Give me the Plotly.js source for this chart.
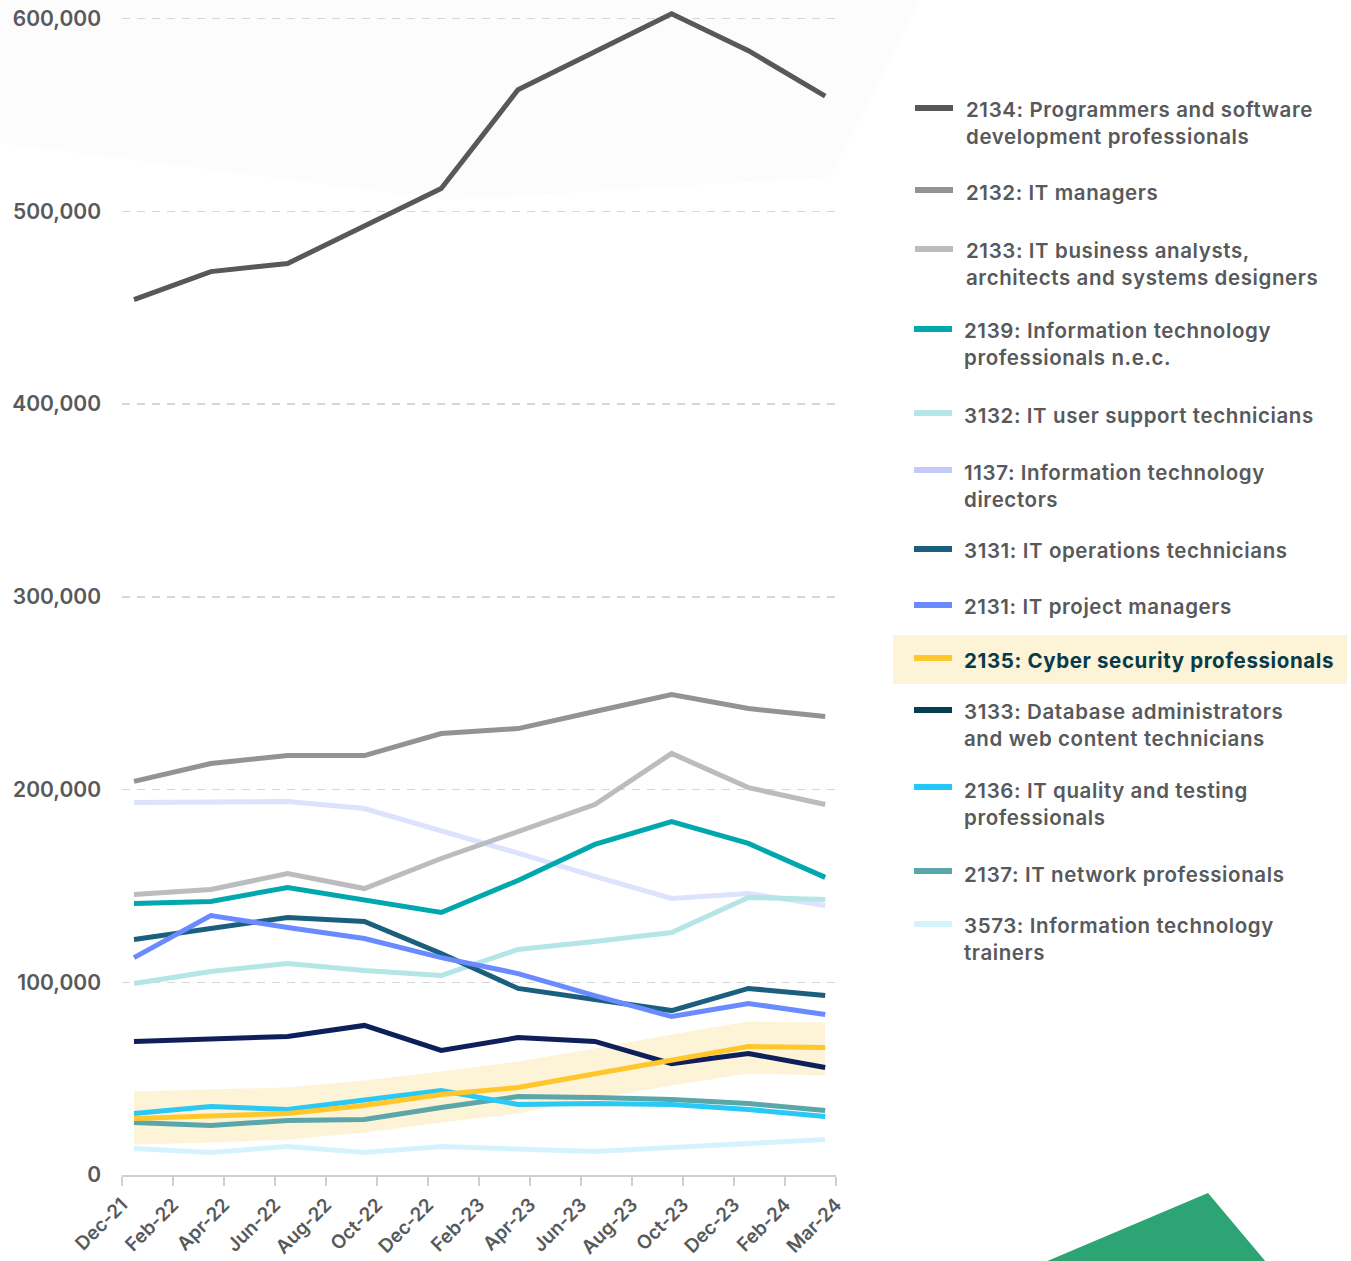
<!DOCTYPE html>
<html>
<head>
<meta charset="utf-8">
<script src="https://cdn.plot.ly/plotly-3.0.1.min.js"></script>
<style>
html,body{margin:0;padding:0;background:#fff;}
#chart{width:1351px;height:1261px;}
#chart .annotation-text{letter-spacing:0.6px;}
#chart .xtick text{letter-spacing:0.4px;}
</style>
</head>
<body>
<div id="chart"></div>
<script>
// ---- Data ----
const quarters = ['Dec-21','Mar-22','Jun-22','Sep-22','Dec-22','Mar-23','Jun-23','Sep-23','Dec-23','Mar-24'];
const tickLabels = ['Dec-21','Feb-22','Apr-22','Jun-22','Aug-22','Oct-22','Dec-22','Feb-23','Apr-23','Jun-23','Aug-23','Oct-23','Dec-23','Feb-24','Mar-24'];

const s2134 = [454200, 468700, 472900, 492300, 511800, 563000, 582700, 602400, 583300, 559700];
const s2132 = [204200, 213500, 217600, 217600, 229000, 231600, 240500, 249300, 242000, 237900];
const s2133 = [145500, 148100, 156400, 148600, 164200, 178200, 192200, 218700, 201000, 192200];
const s2139 = [140900, 141900, 149200, 142400, 136200, 152800, 171500, 183400, 172000, 154400];
const s3132 = [99400, 105600, 109700, 106100, 103500, 117000, 121100, 125800, 144000, 142900];
const s1137 = [193300, 193300, 193800, 190100, 178700, 167000, 154900, 143500, 146100, 139800];
const s3131 = [122200, 127900, 133600, 131500, 114900, 96800, 91100, 85300, 96800, 93100];
const s2131 = [112800, 134600, 128400, 122700, 112800, 104500, 93100, 82200, 89000, 83300];
const s2135 = [29300, 30400, 31900, 36100, 41800, 45400, 52700, 59400, 66700, 66100];
const s2135Upper = [43300, 44400, 45400, 49000, 53700, 58900, 65600, 72900, 79600, 79100];
const s2135Lower = [15800, 16900, 18400, 22000, 27200, 31900, 39700, 46400, 52700, 51600];
const s3133 = [69300, 70800, 71900, 77600, 64600, 71300, 69300, 57800, 63000, 55800];
const s2136 = [31900, 35500, 34000, 38700, 43800, 36600, 37100, 36600, 34000, 30400];
const s2137 = [27200, 25700, 28300, 28800, 35000, 40700, 40200, 39200, 37100, 33500];
const s3573 = [13700, 11700, 14800, 11700, 14800, 13700, 12200, 14300, 16300, 18400];

const seriesNames = [
  '2134: Programmers and software<br>development professionals',
  '2132: IT managers',
  '2133: IT business analysts,<br>architects and systems designers',
  '2139: Information technology<br>professionals n.e.c.',
  '3132: IT user support technicians',
  '1137: Information technology<br>directors',
  '3131: IT operations technicians',
  '2131: IT project managers',
  '2135: Cyber security professionals',
  '3133: Database administrators<br>and web content technicians',
  '2136: IT quality and testing<br>professionals',
  '2137: IT network professionals',
  '3573: Information technology<br>trainers'
];
const seriesValues = [s2134, s2132, s2133, s2139, s3132, s1137, s3131, s2131, s2135, s3133, s2136, s2137, s3573];
const lineColors = ['#58585a','#939397','#bcbcc0','#00a8ad','#b3e6e4','#dde2fd','#1b5f7e','#6a8bff','#ffc72c','#0e1f5b','#29c8f5','#5ba6a9','#d5f3fc'];
const swatchColors = ['#58585a','#939397','#bcbcc0','#00a8ad','#b3e6e4','#c4cbf9','#1b5f7e','#6a8bff','#ffc72c','#063f4f','#23c8fa','#5aa6aa','#d5f3fc'];

// ---- Geometry helpers (layout only) ----
const W = 1351, H = 1261;
const M = {l: 122, r: 1351 - 836, t: 6, b: 86};
const PW = W - M.l - M.r, PH = H - M.t - M.b;
const px = x => (x - M.l) / PW;
const py = y => (H - M.b - y) / PH;
const FONT = 'Inter, "Open Sans", sans-serif';
const TXT = '#58595b';

const idx = quarters.map((_, i) => i);
const traces = [];
// confidence band for 2135
traces.push({x: idx, y: s2135Lower, type: 'scatter', mode: 'lines', line: {width: 0, color: 'rgba(0,0,0,0)'}, hoverinfo: 'skip', showlegend: false});
traces.push({x: idx, y: s2135Upper, type: 'scatter', mode: 'lines', line: {width: 0, color: 'rgba(0,0,0,0)'}, fill: 'tonexty', fillcolor: '#fdf3d6', hoverinfo: 'skip', showlegend: false});

// draw order: light/background lines first
const order = [12, 5, 4, 2, 1, 0, 3, 6, 7, 9, 11, 10, 8];
order.forEach(k => {
  traces.push({
    x: idx, y: seriesValues[k], type: 'scatter', mode: 'lines',
    name: seriesNames[k].replace('<br>', ' '),
    text: quarters, line: {color: lineColors[k], width: 5}, showlegend: false
  });
});
// dummy trace to carry the category-tick axis
traces.push({x: [0, 14], y: [0, 0], xaxis: 'x2', type: 'scatter', mode: 'lines', line: {width: 0, color: 'rgba(0,0,0,0)'}, hoverinfo: 'skip', showlegend: false});

// ---- custom legend ----
const legendSwatchY = [108, 190, 249, 329, 413, 470, 549, 605, 658, 710, 787, 871, 924];
const legendTextY = [123, 192, 264, 344, 416, 486, 550, 606, 660, 725, 804, 874, 939];
const shapes = [];
const annotations = [];

// background decoration
shapes.push({type: 'path', xref: 'paper', yref: 'paper', layer: 'below',
  path: `M ${px(0)} ${py(0)} L ${px(920)} ${py(0)} L ${px(830)} ${py(177)} L ${px(450)} ${py(200)} L ${px(0)} ${py(143)} Z`,
  fillcolor: '#fcfcfc', line: {width: 0}});
shapes.push({type: 'path', xref: 'paper', yref: 'paper', layer: 'above',
  path: `M ${px(1045)} ${py(1262)} L ${px(1208)} ${py(1193)} L ${px(1266)} ${py(1262)} Z`,
  fillcolor: '#2ca474', line: {width: 0}});
// highlight box
shapes.push({type: 'rect', xref: 'paper', yref: 'paper', layer: 'below',
  x0: px(893), x1: px(1347), y0: py(684), y1: py(635), fillcolor: '#fdf3d6', line: {width: 0}});

seriesNames.forEach((nm, k) => {
  const sx0 = k < 3 ? 915 : 914;
  shapes.push({type: 'line', xref: 'paper', yref: 'paper', x0: px(sx0), x1: px(sx0 + 38), y0: py(legendSwatchY[k]), y1: py(legendSwatchY[k]),
    line: {color: swatchColors[k], width: 6}});
  const hi = k === 8;
  annotations.push({xref: 'paper', yref: 'paper', x: px(k < 3 ? 964 : 962), y: py(legendTextY[k]),
    xanchor: 'left', yanchor: 'middle', align: 'left', showarrow: false,
    text: hi ? '<b>' + nm + '</b>' : nm,
    font: {family: FONT, size: 20.5, color: hi ? '#083b4a' : TXT, weight: hi ? 700 : 600}});
});

const layout = {
  width: W, height: H,
  margin: M,
  paper_bgcolor: '#ffffff', plot_bgcolor: 'rgba(0,0,0,0)',
  showlegend: false,
  font: {family: FONT, color: TXT},
  xaxis: {range: [(M.l - 134) / 76.8, (836 - 134) / 76.8], showgrid: false, zeroline: false, showline: false, showticklabels: false, ticks: '', fixedrange: true},
  xaxis2: {overlaying: 'x', anchor: 'y', side: 'bottom', range: [0, 14], tickmode: 'array',
    tickvals: tickLabels.map((_, i) => i), ticktext: tickLabels, tickangle: -45,
    showgrid: false, zeroline: false, showline: true, linecolor: '#cfcfcf', linewidth: 2,
    ticks: 'outside', ticklen: 9, tickwidth: 2, tickcolor: '#cfcfcf',
    tickfont: {family: FONT, size: 19, color: TXT, weight: 600}},
  yaxis: {range: [0, PH / 192.75 * 100000], tickmode: 'array', tickvals: [0, 100000, 200000, 300000, 400000, 500000, 600000],
    ticktext: ['0', '100,000', '200,000', '300,000', '400,000', '500,000', '600,000'],
    showgrid: true, gridcolor: '#d6d6d6', gridwidth: 1.5, griddash: '8px,7px', zeroline: false, showline: false,
    ticks: '', ticklabelstandoff: 20,
    tickfont: {family: FONT, size: 21, color: TXT, weight: 600}},
  shapes: shapes,
  annotations: annotations
};

Plotly.newPlot('chart', traces, layout, {displayModeBar: false, staticPlot: true});
</script>
</body>
</html>
